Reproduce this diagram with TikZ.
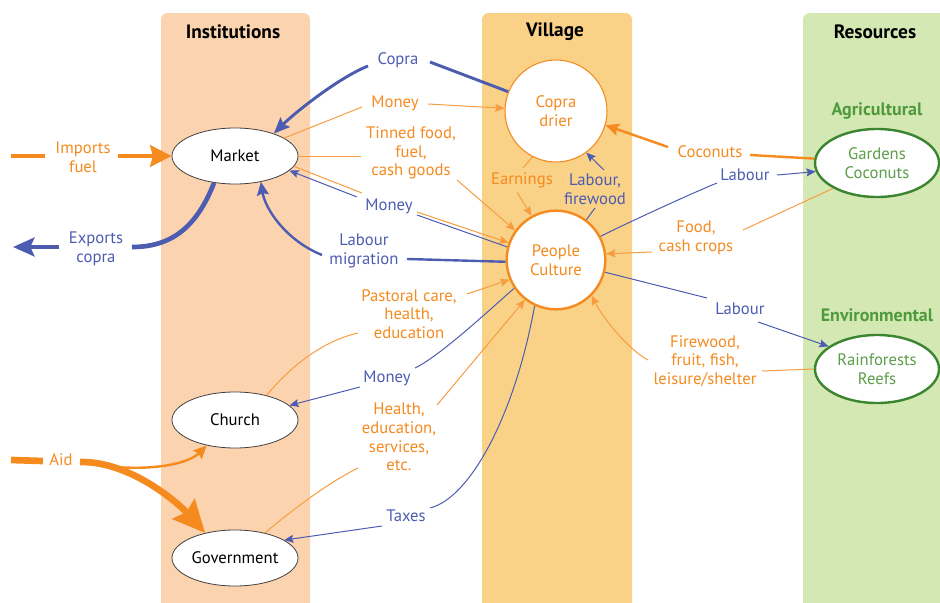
\documentclass[tikz,border=0pt]{standalone}
\usepackage{fontspec}
\setmainfont{PT Sans}
\usetikzlibrary{arrows.meta,shapes.geometric}
\definecolor{cor}{HTML}{F58A1F}
\definecolor{cbl}{HTML}{4C5CB0}
\definecolor{cgr}{HTML}{4F9A3C}
\definecolor{cgrt}{HTML}{5C9E4A}
\definecolor{cgrd}{HTML}{3C8530}
\definecolor{binst}{HTML}{FCD3AF}
\definecolor{bvill}{HTML}{F9D288}
\definecolor{bres}{HTML}{D4E8B4}
\begin{document}
\begin{tikzpicture}[x=0.75pt,y=-0.75pt,
  font=\fontsize{12.5}{14}\selectfont,
  lab/.style={align=center,inner sep=0pt},
  olab/.style={lab,text=cor},
  blab/.style={lab,text=cbl},
  glab/.style={lab,text=cgr,font=\fontsize{13.5}{15}\selectfont\bfseries},
  hdr/.style={lab,font=\fontsize{14.5}{16}\selectfont\bfseries},
  inst/.style={ellipse,draw=black!75,line width=0.6pt,fill=white,minimum width=94.5pt,minimum height=42pt,inner sep=0pt},
  res/.style={ellipse,draw=cgrd,line width=1.8pt,fill=white,text=cgrt,align=center,minimum width=93pt,minimum height=51pt,inner sep=0pt},
  olin/.style={cor!85,line width=0.75pt},
  blin/.style={cbl,line width=0.75pt},
  aS/.style={-{Stealth[length=7pt,width=6pt,inset=1.2pt]}},
  aM/.style={-{Stealth[length=10pt,width=9pt,inset=1.5pt]}}
]
\useasboundingbox (0,0) rectangle (940,603);
% bands
\fill[binst,rounded corners=5pt] (161,13) rectangle (310,615);
\fill[bvill,rounded corners=5pt] (482,13) rectangle (632,615);
\fill[bres,rounded corners=5pt] (803,13) rectangle (950,615);
% headers
\node[hdr] (hinst) at (233,32) {Institutions};
\node[hdr] (hvill) at (555,32) {Village};
\node[hdr] (hres) at (875,32) {Resources};
\node[glab] (hagr) at (877,111) {Agricultural};
\node[glab] (henv) at (877,315) {Environmental};
% main nodes
\node[inst] (market) at (235,156) {Market};
\node[inst] (church) at (235,420) {Church};
\node[inst] (gov) at (235,558) {Government};
\node[circle,draw=cor,line width=0.8pt,fill=white,text=cor,align=center,minimum size=76.5pt,inner sep=0pt] (drier) at (556,111) {Copra\\drier};
\node[circle,draw=cor,line width=1.8pt,fill=white,text=cor,align=center,minimum size=74pt,inner sep=0pt] (people) at (556,260) {People\\Culture};
\node[res] (gardens) at (877,163) {Gardens\\Coconuts};
\node[res] (rain) at (877,369) {Rainforests\\Reefs};
% labels
\node[blab] (lcopra) at (398,60) {Copra};
\node[olab] (lmoney1) at (395,103) {Money};
\node[olab] (ltinned) at (411,153) {Tinned food,\\fuel,\\cash goods};
\node[blab] (lmoney2) at (389,206) {Money};
\node[blab] (llabmig) at (364,251) {Labour\\migration};
\node[olab] (lpastoral) at (409,314) {Pastoral care,\\health,\\education};
\node[blab] (lmoney3) at (387,378) {Money};
\node[olab] (lhealth) at (399,437) {Health,\\education,\\services,\\etc.};
\node[blab] (ltaxes) at (406,516) {Taxes};
\node[olab] (limports) at (83,157) {Imports\\fuel};
\node[blab] (lexports) at (96,249) {Exports\\copra};
\node[olab] (laid) at (61,460) {Aid};
\node[olab] (learn) at (522,180) {Earnings};
\node[blab] (llabfw) at (595,189) {Labour,\\firewood};
\node[olab] (lcoco) at (710,152) {Coconuts};
\node[blab] (llab1) at (745,175) {Labour};
\node[olab] (lfood) at (696,238) {Food,\\cash crops};
\node[blab] (llab2) at (740,309) {Labour};
\node[olab] (lfire) at (705,361) {Firewood,\\fruit, fish,\\leisure/shelter};
\coordinate (impstart) at (11,156);
\coordinate (expend) at (13,247);
\coordinate (aidstart) at (11,460);
% Copra
\draw[cbl,line width=2.2pt] (drier.158) -- ([shift={(32,2)}]lcopra.center);
\draw[cbl,line width=2.2pt,-{Stealth[length=12pt,width=10pt,inset=2pt]}] ([shift={(-30,6)}]lcopra.center) .. controls +(-30,12) and +(20,-20) .. (market.30);
% Money to drier
\draw[olin] (market.20) -- ([shift={(-33,4)}]lmoney1.center);
\draw[olin,aS] ([shift={(33,1)}]lmoney1.center) -- (drier.177);
% Tinned food
\draw[olin] (market.0) -- ([shift={(-50,3)}]ltinned.center);
\draw[olin,aS] ([shift={(46,27)}]ltinned.center) -- (people.144);
% Money double
\draw[olin] (market.-10) -- ([shift={(-27,-13)}]lmoney2.center);
\draw[blin,aS] ([shift={(-32,-9)}]lmoney2.center) -- (market.-15);
\draw[olin,aS] ([shift={(28,6)}]lmoney2.center) -- (people.160);
\draw[blin] (people.165) -- ([shift={(28,9)}]lmoney2.center);
% Labour migration
\draw[cbl,line width=1.8pt] (people.182) -- ([shift={(43,8)}]llabmig.center);
\draw[cbl,line width=1.8pt,-{Stealth[length=10pt,width=9pt,inset=1.5pt]}] ([shift={(-42,4)}]llabmig.center) .. controls +(-37,-15) and +(4,26) .. (market.-45);
% Exports
\draw[cbl,line width=3.5pt] (market.232) .. controls +(-18,46) and +(38,0) .. ([shift={(36,-2)}]lexports.center);
\draw[cbl,line width=3.5pt,-{Stealth[length=16pt,width=14pt,inset=3pt]}] ([shift={(-37,-2)}]lexports.center) -- (expend);
% Imports
\draw[cor,line width=3.5pt] (impstart) -- ([shift={(-38,-1)}]limports.center);
\draw[cor,line width=3.5pt,-{Stealth[length=16pt,width=16pt,inset=2pt]}] ([shift={(35,-1)}]limports.center) -- (market.180);
% Aid
\draw[cor,line width=5pt] (aidstart) -- ([shift={(-18,1)}]laid.center);
\draw[cor,line width=1.8pt,aM] ([shift={(19,2)}]laid.center) .. controls +(60,12) and +(-20,20) .. (church.222);
\draw[cor,line width=5pt,-{Stealth[length=24pt,width=22pt,inset=3pt]}] ([shift={(19,2)}]laid.center) .. controls +(50,-1) and +(-27,-30) .. (gov.140);
% Pastoral
\draw[olin] (church.38) .. controls +(25,-30) and +(-35,8) .. ([shift={(-51,19)}]lpastoral.center);
\draw[olin,aS] ([shift={(58,-20)}]lpastoral.center) -- (people.203);
% Money church
\draw[blin] (people.214) .. controls +(-25,22) and +(25,-12) .. ([shift={(28,-10)}]lmoney3.center);
\draw[blin,aS] ([shift={(-27,9)}]lmoney3.center) -- (church.15);
% Health
\draw[olin] (gov.40) .. controls +(30,-25) and +(-30,15) .. ([shift={(-41,31)}]lhealth.center);
\draw[olin,aS] ([shift={(38,-32)}]lhealth.center) -- (people.232);
% Taxes
\draw[blin] (people.245) .. controls +(-20,110) and +(40,-10) .. ([shift={(24,-8)}]ltaxes.center);
\draw[blin,aS] ([shift={(-24,10)}]ltaxes.center) -- (gov.20);
% Earnings
\draw[olin] (drier.243) -- ([shift={(1,-12)}]learn.center);
\draw[olin,aS] ([shift={(-5,12)}]learn.center) -- (people.119);
% Labour firewood
\draw[blin] (people.53) -- ([shift={(0,19)}]llabfw.center);
\draw[blin,aS] ([shift={(9,-19)}]llabfw.center) -- (drier.306);
% Coconuts
\draw[cor,line width=1.8pt] (gardens.176) -- ([shift={(40,3)}]lcoco.center);
\draw[cor,line width=1.8pt,aM] ([shift={(-42,-5)}]lcoco.center) -- (drier.344);
% Labour gardens
\draw[blin] (people.28) .. controls +(30,-15) and +(-20,8) .. ([shift={(-28,8)}]llab1.center);
\draw[blin,aS] ([shift={(32,0)}]llab1.center) -- (gardens.188);
% Food
\draw[olin] (gardens.210) -- ([shift={(47,-8)}]lfood.center);
\draw[olin,aS] ([shift={(-44,14)}]lfood.center) -- (people.7);
% Labour rain
\draw[blin] (people.346) -- ([shift={(-33,-11)}]llab2.center);
\draw[blin,aS] ([shift={(18,13)}]llab2.center) -- (rain.155);
% Firewood
\draw[olin] (rain.180) -- ([shift={(57,10)}]lfire.center);
\draw[olin,aS] ([shift={(-57,-1)}]lfire.center) .. controls +(-22,-12) and +(10,20) .. (people.315);
\end{tikzpicture}
\end{document}
